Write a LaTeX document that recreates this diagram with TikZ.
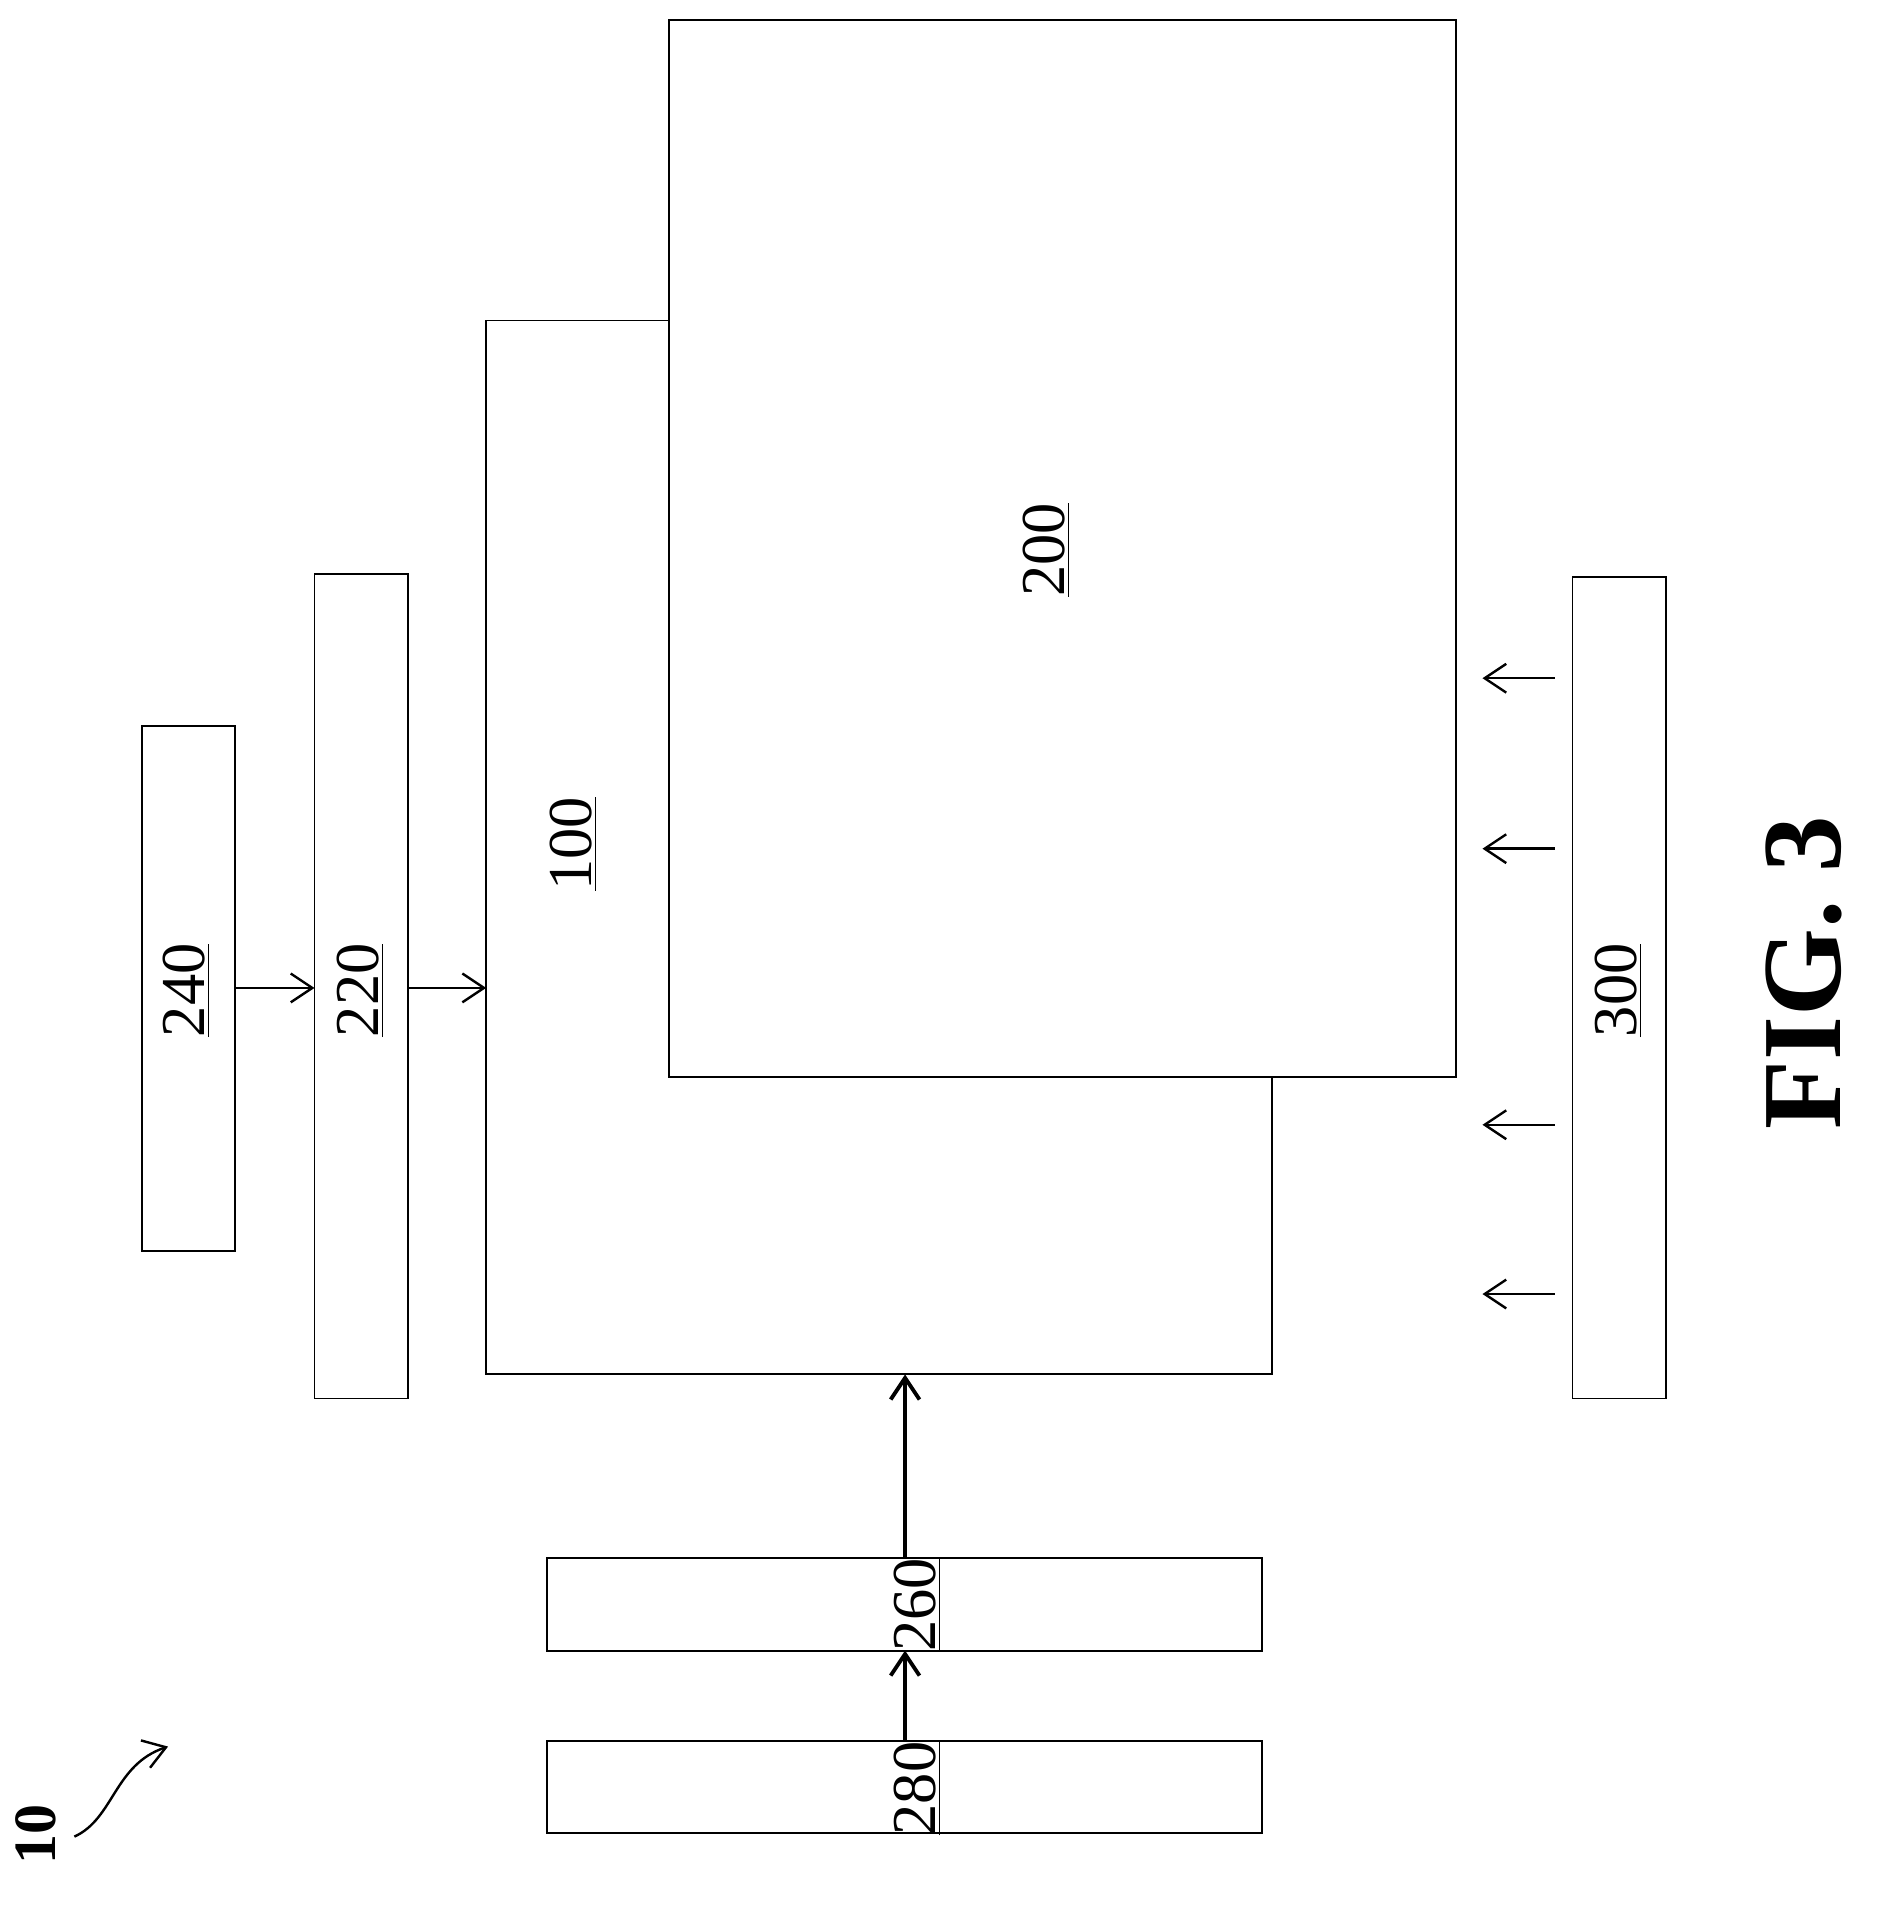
\documentclass[tikz,border=0pt]{standalone}
\usepackage{fontspec}
\setmainfont{Liberation Serif}
\usetikzlibrary{arrows.meta}
\begin{document}
\begin{tikzpicture}[x=0.5pt,y=-0.5pt,
  box/.style={draw,line width=0.8pt},
  lab/.style={rotate=90,font=\fontsize{26}{28}\selectfont},
  arr/.style={-{Straight Barb[length=9pt,width=12pt]},line width=1pt}]
\useasboundingbox (0,0) rectangle (1568,1587);
\draw[box] (118,605) rectangle (196,1042);
\draw[box] (262,478) rectangle (340,1165);
\draw[box] (557,267) -- (405,267) -- (405,1145) -- (1060,1145) -- (1060,897);
\draw[box,fill=white] (557,17) rectangle (1213,897);
\draw[box] (1310,481) rectangle (1388,1165);
\draw[box] (456,1298) rectangle (1051,1375);
\draw[box] (456,1450) rectangle (1051,1527);
\node[lab] (n240) at (155,825) {\underline{240}};
\node[lab] (n220) at (300,825) {\underline{220}};
\node[lab] (n100) at (478,703) {\underline{100}};
\node[lab] (n200) at (872,458) {\underline{200}};
\node[lab] (n300) at (1348,825) {\underline{300}};
\node[lab] (n260) at (764,1337) {\underline{260}};
\node[lab] (n280) at (764,1490) {\underline{280}};
\coordinate (a1) at (196,823); \coordinate (b1) at (262,823);
\coordinate (a2) at (340,823); \coordinate (b2) at (405,823);
\coordinate (a3) at (754,1298); \coordinate (b3) at (754,1145);
\coordinate (a4) at (754,1450); \coordinate (b4) at (754,1375);
\draw[arr] (a1) -- (b1);
\draw[arr] (a2) -- (b2);
\draw[arr,line width=1.6pt] (a3) -- (b3);
\draw[arr,line width=1.6pt] (a4) -- (b4);
\foreach \y in {565,707,937,1078}{
  \coordinate (s\y) at (1295,\y); \coordinate (t\y) at (1235,\y);
  \draw[arr] (s\y) -- (t\y);}
\node[rotate=90,font=\fontsize{47}{50}\selectfont\bfseries] (fig) at (1503,810) {FIG. 3};
\node[rotate=90,font=\fontsize{25}{28}\selectfont\bfseries] (ten) at (30,1528) {10};
\coordinate (c1) at (62,1530); \coordinate (c2) at (140,1455);
\draw[arr] (c1) .. controls (95,1515) and (95,1470) .. (c2);
\end{tikzpicture}
\end{document}
